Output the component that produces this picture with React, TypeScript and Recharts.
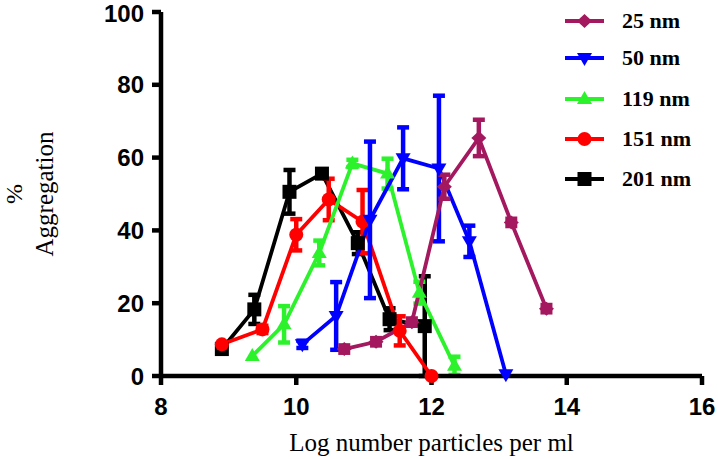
import React from 'react';
import { LineChart, Line, XAxis, YAxis, ErrorBar, Legend } from 'recharts';

const xTicks = [8, 10, 12, 14, 16];
const yTicks = [0, 20, 40, 60, 80, 100];

const seriesNames = ['25 nm', '50 nm', '119 nm', '151 nm', '201 nm'];
const seriesColors = ['#A3185E', '#0000FF', '#2CF22C', '#FF0000', '#000000'];
const seriesShapes = ['diamond', 'down', 'up', 'circle', 'square'];

const x25 = [10.71, 11.18, 11.71, 12.19, 12.7, 13.18, 13.7];
const y25 = [7.4, 9.4, 14.8, 52.0, 65.4, 42.2, 18.5];
const e25 = [1, 1, 1, 3.3, 5, 1, 1];

const x50 = [10.09, 10.59, 11.09, 11.58, 12.11, 12.56, 13.1];
const y50 = [8.7, 16.5, 42.9, 59.8, 57.0, 37.0, 0.5];
const e50 = [1, 9.3, 21.5, 8.5, 20, 4.3, 0];

const x119 = [9.35, 9.82, 10.34, 10.83, 11.35, 11.82, 12.34];
const y119 = [5.5, 14.2, 33.8, 58.4, 55.6, 22.9, 2.8];
const e119 = [0, 5, 3.4, 1, 4.1, 3, 2.5];

const x151 = [8.9, 9.5, 10.0, 10.48, 10.98, 11.53, 12.0];
const y151 = [8.7, 12.8, 38.8, 48.5, 42.4, 12.4, 0];
const e151 = [0, 1, 4.3, 5.7, 8.7, 4, 0];

const x201 = [8.9, 9.38, 9.9, 10.38, 10.91, 11.38, 11.9];
const y201 = [7.4, 18.3, 50.6, 55.6, 36.5, 15.6, 13.7];
const e201 = [0, 4, 6, 1, 3, 3, 13.7];

const build = (xs: number[], ys: number[], es: number[]) =>
  xs.map((x, i) => ({ x, y: ys[i], err: es[i] }));

const seriesData = [
  build(x25, y25, e25),
  build(x50, y50, e50),
  build(x119, y119, e119),
  build(x151, y151, e151),
  build(x201, y201, e201),
];

const Marker = ({ cx, cy, shape, color }: any) => {
  if (cx == null || cy == null || isNaN(cx) || isNaN(cy)) return null;
  switch (shape) {
    case 'diamond':
      return (
        <polygon
          points={`${cx},${cy - 7} ${cx + 7.5},${cy} ${cx},${cy + 7} ${cx - 7.5},${cy}`}
          fill={color}
        />
      );
    case 'down':
      return (
        <polygon
          points={`${cx - 7.5},${cy - 5} ${cx + 7.5},${cy - 5} ${cx},${cy + 8}`}
          fill={color}
        />
      );
    case 'up':
      return (
        <polygon
          points={`${cx - 7.5},${cy + 5} ${cx + 7.5},${cy + 5} ${cx},${cy - 8}`}
          fill={color}
        />
      );
    case 'circle':
      return <circle cx={cx} cy={cy} r={7} fill={color} />;
    default:
      return <rect x={cx - 7} y={cy - 7} width={14} height={14} fill={color} />;
  }
};

const legendRows = [21, 58, 99, 139, 179];

const renderLegend = () => (
  <svg width={163} height={200} style={{ display: 'block' }}>
    {seriesNames.map((name, i) => (
      <g key={name}>
        <line x1={10} x2={49} y1={legendRows[i]} y2={legendRows[i]} stroke={seriesColors[i]} strokeWidth={4} />
        <Marker cx={29.5} cy={legendRows[i]} shape={seriesShapes[i]} color={seriesColors[i]} />
        <text
          x={67}
          y={legendRows[i] + 7}
          fontFamily="'Liberation Serif', 'Times New Roman', serif"
          fontWeight="bold"
          fontSize={22}
          fill="#000"
        >
          {name}
        </text>
      </g>
    ))}
  </svg>
);

const tickStyle = {
  fontFamily: "'Liberation Sans', Arial, sans-serif",
  fontWeight: 'bold',
  fontSize: 24,
  fill: '#000',
};

const order = [4, 3, 2, 1, 0];

export default function App() {
  return (
    <div style={{ position: 'absolute', left: 0, top: 0, width: 718, height: 459, background: '#fff' }}>
      <LineChart width={718} height={459} margin={{ top: 12, right: 16, bottom: 0, left: 0 }}>
        <XAxis
          type="number"
          dataKey="x"
          domain={[8, 16]}
          ticks={xTicks}
          allowDataOverflow
          height={83}
          axisLine={{ stroke: '#000', strokeWidth: 4.5 }}
          tickLine={{ stroke: '#000', strokeWidth: 4.5 }}
          tickSize={9}
          tickMargin={13}
          tick={tickStyle}
          label={(p: any) => {
            const vb = p.viewBox || { x: 161, y: 376, width: 541 };
            return (
              <text
                x={vb.x + vb.width / 2}
                y={vb.y + 75}
                textAnchor="middle"
                fontFamily="'Liberation Serif', 'Times New Roman', serif"
                fontSize={25}
                fill="#000"
              >
                Log number particles per ml
              </text>
            );
          }}
        />
        <YAxis
          type="number"
          domain={[0, 100]}
          ticks={yTicks}
          width={161}
          axisLine={{ stroke: '#000', strokeWidth: 4.5 }}
          tickLine={{ stroke: '#000', strokeWidth: 4.5 }}
          tickSize={9}
          tickMargin={8}
          tick={tickStyle}
          label={(p: any) => {
            const vb = p.viewBox || { x: 0, y: 12, width: 161, height: 364 };
            const cy = vb.y + vb.height / 2;
            return (
              <g>
                <text
                  transform={`rotate(-90, 22, ${cy})`}
                  x={22}
                  y={cy}
                  textAnchor="middle"
                  fontFamily="'Liberation Serif', 'Times New Roman', serif"
                  fontSize={24}
                  fill="#000"
                >
                  %
                </text>
                <text
                  transform={`rotate(-90, 53, ${cy})`}
                  x={53}
                  y={cy}
                  textAnchor="middle"
                  fontFamily="'Liberation Serif', 'Times New Roman', serif"
                  fontSize={25}
                  fill="#000"
                >
                  Aggregation
                </text>
              </g>
            );
          }}
        />
        <Legend
          layout="vertical"
          align="center"
          verticalAlign="middle"
          content={renderLegend}
          wrapperStyle={{ left: 555, top: 0, width: 163, height: 200 }}
        />
        {order.map((i) => (
          <Line
            key={seriesNames[i]}
            name={seriesNames[i]}
            data={seriesData[i]}
            dataKey="y"
            stroke={seriesColors[i]}
            strokeWidth={3.8}
            isAnimationActive={false}
            activeDot={false}
            dot={(p: any) => (
              <Marker key={`${i}-${p.index}`} cx={p.cx} cy={p.cy} shape={seriesShapes[i]} color={seriesColors[i]} />
            )}
          >
            <ErrorBar
              dataKey="err"
              direction="y"
              width={6}
              stroke={seriesColors[i]}
              strokeWidth={4.5}
              isAnimationActive={false}
            />
          </Line>
        ))}
      </LineChart>
    </div>
  );
}
